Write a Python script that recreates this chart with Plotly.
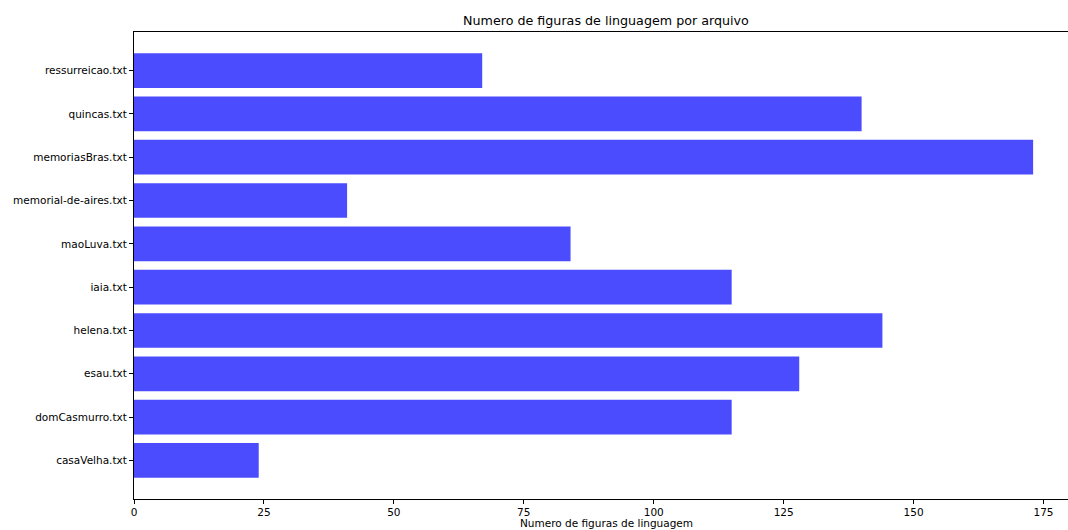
import plotly.graph_objects as go

files = ["casaVelha.txt", "domCasmurro.txt", "esau.txt", "helena.txt", "iaia.txt",
         "maoLuva.txt", "memorial-de-aires.txt", "memoriasBras.txt", "quincas.txt",
         "ressurreicao.txt"]
counts = [24, 115, 128, 144, 115, 84, 41, 173, 140, 67]
x_ticks = [0, 25, 50, 75, 100, 125, 150, 175]

W, H = 1068, 530
L, T, B = 133.5, 31.5, 31
plot_w = W - L
plot_h = H - T - B
px_per_unit = 5.2
x_max = plot_w / px_per_unit

fig = go.Figure()
fig.add_trace(go.Bar(
    y=list(range(len(files))), x=counts, orientation="h", width=0.8,
    marker=dict(color="rgba(0,0,255,0.7)", line=dict(width=0)),
))

font = dict(family="DejaVu Sans", size=10.5, color="#000000")
fig.update_layout(
    width=W, height=H,
    margin=dict(l=L, r=0, t=T, b=B, autoexpand=False),
    plot_bgcolor="white", paper_bgcolor="white",
    showlegend=False, font=font,
    xaxis=dict(range=[0, x_max], tickvals=x_ticks, ticktext=[str(v) for v in x_ticks],
               showgrid=False, zeroline=False, showline=True, linecolor="#000000",
               linewidth=1, mirror=True, ticks="outside", ticklen=3.5, tickwidth=1,
               tickcolor="#000000", tickfont=font),
    yaxis=dict(range=[-0.89, len(files) - 1 + 0.89], tickvals=list(range(len(files))),
               ticktext=files, showgrid=False, zeroline=False, showline=True,
               linecolor="#000000", linewidth=1, ticks="outside", ticklen=4,
               tickwidth=1, tickcolor="#000000", tickfont=font),
)
# axes center includes the clipped right part (xlim max ~181.65)
x_center_paper = (181.65 / 2) / x_max
fig.add_annotation(text="Numero de figuras de linguagem por arquivo", xref="paper", yref="paper",
                   x=x_center_paper, y=1 + 11.5 / plot_h, xanchor="center", yanchor="middle",
                   showarrow=False, font=dict(family="DejaVu Sans", size=12.7, color="#000000"))
fig.add_annotation(text="Numero de figuras de linguagem", xref="paper", yref="paper",
                   x=x_center_paper, y=-(B / plot_h), xanchor="center", yanchor="bottom",
                   borderpad=0, showarrow=False, font=font)
fig.write_html("out.html")
